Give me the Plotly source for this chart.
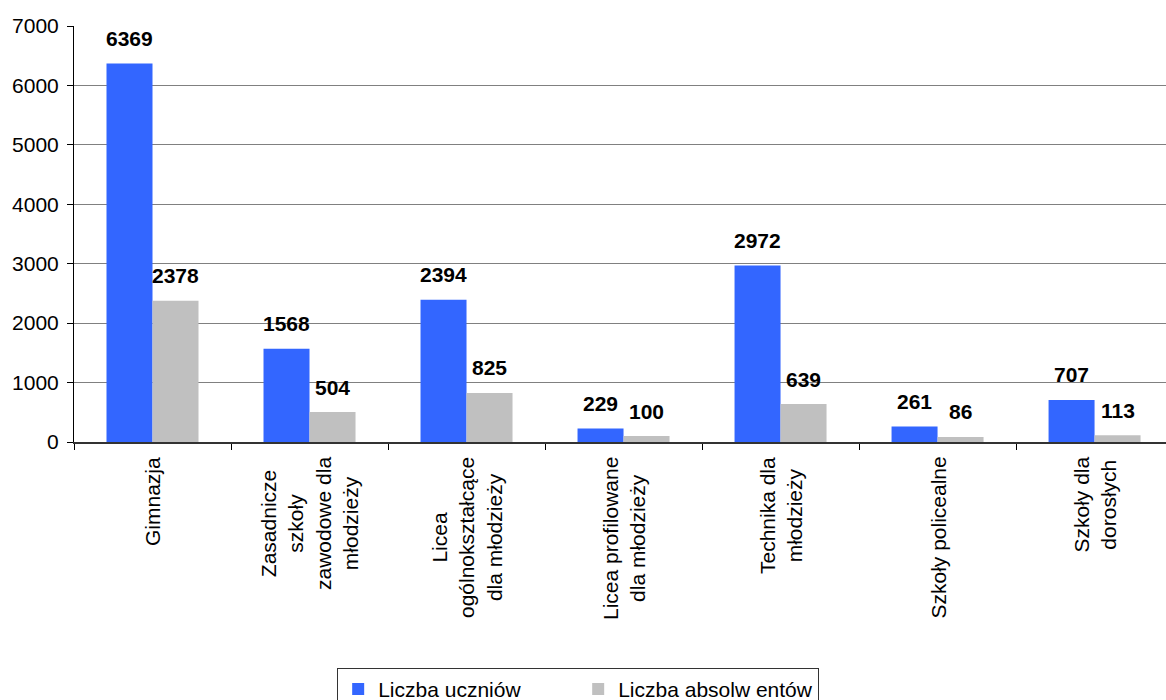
import plotly.graph_objects as go

categories = [
    "Gimnazja",
    "Zasadnicze<br>szkoły<br>zawodowe dla<br>młodzieży",
    "Licea<br>ogólnokształcące<br>dla młodzieży",
    "Licea profilowane<br>dla młodzieży",
    "Technika dla<br>młodzieży",
    "Szkoły policealne",
    "Szkoły dla<br>dorosłych",
]
uczniowie = [6369, 1568, 2394, 229, 2972, 261, 707]
absolwenci = [2378, 504, 825, 100, 639, 86, 113]
series_names = ["Liczba uczniów", "Liczba absolw entów"]
y_ticks = [0, 1000, 2000, 3000, 4000, 5000, 6000, 7000]

FONT = "Liberation Sans, Arial, sans-serif"
BLUE = "#3366FF"
GRAY = "#C0C0C0"

fig = go.Figure()
fig.add_trace(go.Bar(x=categories, y=uczniowie, name=series_names[0],
                     marker=dict(color=BLUE, line=dict(width=0))))
fig.add_trace(go.Bar(x=categories, y=absolwenci, name=series_names[1],
                     marker=dict(color=GRAY, line=dict(width=0))))

annotations = []
for series, shift in ((uczniowie, -23), (absolwenci, 23)):
    for c, v in zip(categories, series):
        annotations.append(dict(x=c, y=v, xref="x", yref="y", text=f"<b>{v}</b>",
                                showarrow=False, xshift=shift, yshift=25,
                                xanchor="center", yanchor="middle",
                                font=dict(family=FONT, size=21, color="black")))
for c in categories:
    annotations.append(dict(x=c, y=0, xref="x", yref="y", text=c, showarrow=False,
                            textangle=-90, align="center", xanchor="center",
                            yanchor="top", yshift=-13,
                            font=dict(family=FONT, size=21, color="black")))

fig.update_layout(
    width=1166, height=700,
    margin=dict(l=74, r=0, t=26, b=258, autoexpand=False),
    paper_bgcolor="white", plot_bgcolor="white",
    barmode="group", bargap=0.414, bargroupgap=0,
    font=dict(family=FONT, size=21, color="black"),
    showlegend=True,
    legend=dict(orientation="h", x=0.241, xanchor="left", y=-0.543, yanchor="top",
                bordercolor="#333333", borderwidth=1, bgcolor="white",
                font=dict(family=FONT, size=21, color="black"),
                traceorder="normal", itemwidth=30, entrywidth=195, entrywidthmode="pixels"),
    annotations=annotations,
)
fig.update_xaxes(type="category", range=[-0.5, 6.455], showticklabels=False,
                 ticks="outside", tickson="boundaries", ticklen=6, tickcolor="#000000",
                 showline=True, linecolor="#333333", linewidth=2, showgrid=False,
                 automargin=False)
fig.update_yaxes(range=[0, 7000], tickvals=y_ticks, ticks="outside", ticklen=6,
                 tickcolor="#000000", showline=True, linecolor="#000000", linewidth=1,
                 showgrid=True, gridcolor="#808080", gridwidth=1, zeroline=False,
                 ticklabelstandoff=4, automargin=False,
                 tickfont=dict(family=FONT, size=21, color="black"))

fig.write_html("out.html", config={"displayModeBar": False},
               post_script="document.body.style.margin='0';document.body.style.overflow='hidden';")
